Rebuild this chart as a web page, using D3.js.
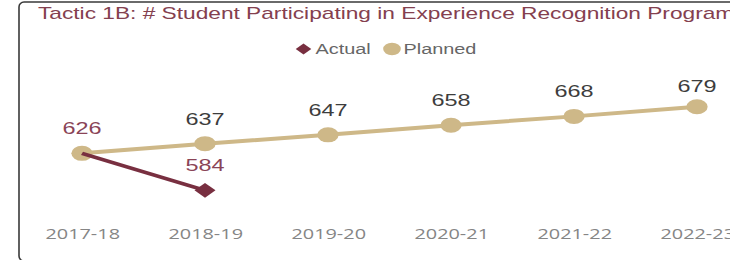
<!DOCTYPE html>
<html>
<head>
<meta charset="utf-8">
<script src="https://cdn.jsdelivr.net/npm/d3@7"></script>
<style>
  html, body { margin: 0; padding: 0; background: #fff; }
  svg { display: block; }
</style>
</head>
<body>
<div id="chart"></div>
<script>
const categories = ["2017-18", "2018-19", "2019-20", "2020-21", "2021-22", "2022-23"];
const actualValues = [626, 584];
const plannedValues = [626, 637, 647, 658, 668, 679];
const titleText = "Tactic 1B: # Student Participating in Experience Recognition Program";
const seriesNames = ["Actual", "Planned"];

const W = 730, H = 260;
const S = 1.42; // horizontal stretch of the original picture
const garnet = "#782F40", gold = "#CEB888";

const svg = d3.select("#chart").append("svg").attr("width", W).attr("height", H);

// frame
svg.append("rect")
  .attr("x", 19).attr("y", 2).attr("width", 800).attr("height", 259)
  .attr("rx", 5).attr("ry", 5)
  .attr("fill", "none").attr("stroke", "#3a3a3a").attr("stroke-width", 1.6);

const g = svg.append("g").attr("transform", `scale(${S},1)`);

const x = d3.scalePoint().domain(categories).range([82 / S, 697 / S]);
const y = d3.scaleLinear().domain([584, 679]).range([190.3, 106.7]);

// title
g.append("text")
  .attr("x", 38 / S).attr("y", 19)
  .attr("font-family", "Liberation Sans, Arial, sans-serif")
  .attr("font-size", 16)
  .attr("fill", "#84404f")
  .text(titleText);

// legend
const lg = g.append("g");
lg.append("path")
  .attr("d", d3.symbol(d3.symbolSquare, 60)())
  .attr("transform", `translate(${303.5 / S},49) rotate(45)`)
  .attr("fill", garnet);
lg.append("text")
  .attr("x", 315.5 / S).attr("y", 54)
  .attr("font-family", "Liberation Sans, Arial, sans-serif")
  .attr("font-size", 14).attr("fill", "#666")
  .text(seriesNames[0]);
lg.append("circle")
  .attr("cx", 392 / S).attr("cy", 49).attr("r", 6.2)
  .attr("fill", gold);
lg.append("text")
  .attr("x", 403.5 / S).attr("y", 54)
  .attr("font-family", "Liberation Sans, Arial, sans-serif")
  .attr("font-size", 14).attr("fill", "#666")
  .text(seriesNames[1]);

// x axis (labels only)
const xAxis = d3.axisBottom(x).tickSize(0).tickPadding(0);
const ax = g.append("g").attr("transform", "translate(0,229)").call(xAxis);
ax.select(".domain").remove();
ax.selectAll("text")
  .attr("font-family", "Open Sans, sans-serif")
  .attr("font-size", 14)
  .attr("fill", "#858585");

const planned = categories.map((c, i) => ({ c, v: plannedValues[i] }));
const actual = actualValues.map((v, i) => ({ c: categories[i], v }));

const line = d3.line().x(d => x(d.c)).y(d => y(d.v));

g.append("path").datum(planned)
  .attr("d", line).attr("fill", "none")
  .attr("stroke", gold).attr("stroke-width", 4);

g.selectAll(".pdot").data(planned).join("circle")
  .attr("class", "pdot")
  .attr("cx", d => x(d.c)).attr("cy", d => y(d.v)).attr("r", 7.5)
  .attr("fill", gold);

g.append("path").datum(actual)
  .attr("d", line).attr("fill", "none")
  .attr("stroke", garnet).attr("stroke-width", 3.5);

g.selectAll(".adot").data(actual.slice(1)).join("path")
  .attr("class", "adot")
  .attr("d", d3.symbol(d3.symbolSquare, 110)())
  .attr("transform", d => `translate(${x(d.c)},${y(d.v)}) rotate(45)`)
  .attr("fill", garnet);

const labelY = v => Math.max(y(v) - 19, 92.5);

// planned labels (skip where actual label sits)
g.selectAll(".plab").data(planned.filter((d, i) => i >= actualValues.length)
    .concat(planned.filter((d, i) => i > 0 && i < actualValues.length)))
  .join("text")
  .attr("class", "plab")
  .attr("x", d => x(d.c)).attr("y", d => labelY(d.v))
  .attr("text-anchor", "middle")
  .attr("font-family", "Liberation Sans, Arial, sans-serif")
  .attr("font-size", 16.5).attr("fill", "#3d3d3d")
  .text(d => d.v);

g.selectAll(".alab").data(actual).join("text")
  .attr("class", "alab")
  .attr("x", d => x(d.c)).attr("y", d => labelY(d.v))
  .attr("text-anchor", "middle")
  .attr("font-family", "Liberation Sans, Arial, sans-serif")
  .attr("font-size", 16.5).attr("fill", "#8a4457")
  .text(d => d.v);
</script>
</body>
</html>
